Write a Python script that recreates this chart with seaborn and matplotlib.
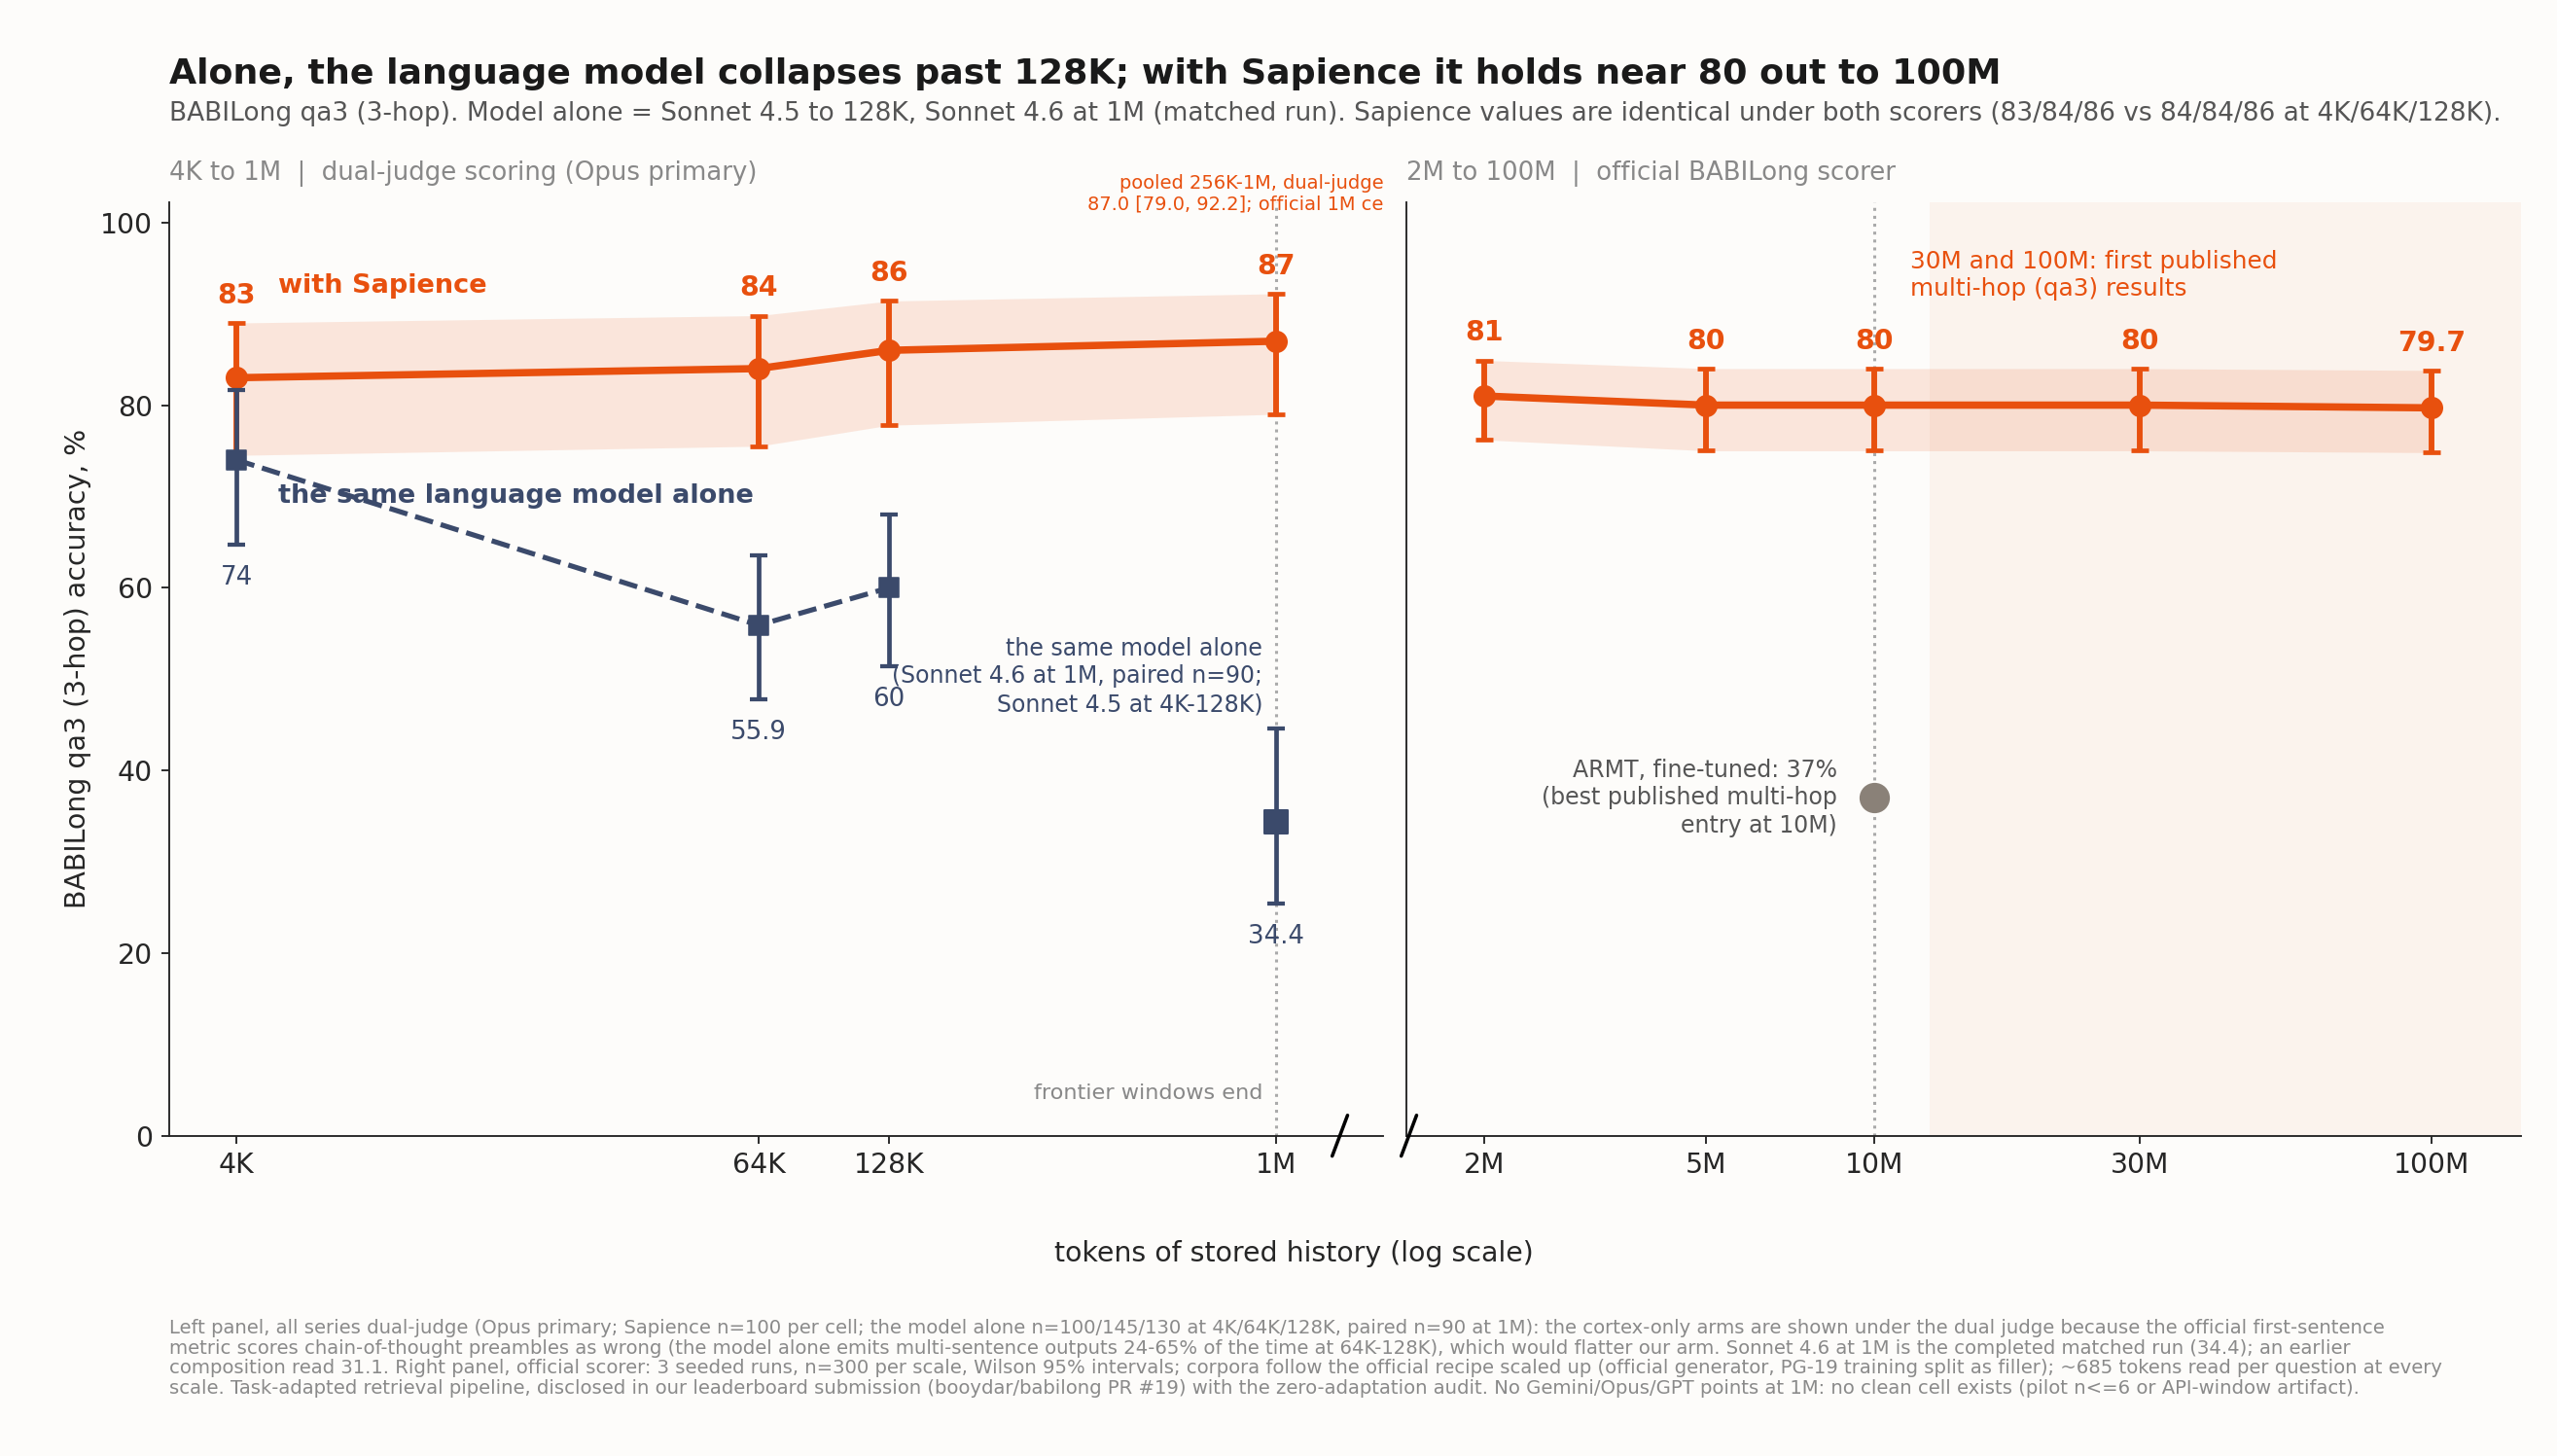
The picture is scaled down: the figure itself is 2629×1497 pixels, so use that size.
import numpy as np, pandas as pd
import matplotlib
matplotlib.use("Agg")
import matplotlib.pyplot as plt
import seaborn as sns

sns.set_style("ticks")
plt.rcParams['font.family'] = ['DejaVu Sans']

# ---- data ----
left_tokens = [4e3, 64e3, 128e3, 1e6]
left_labels = ["4K", "64K", "128K", "1M"]
sap_left = [83, 84, 86, 87]
sap_left_lo = [74.5, 75.5, 77.8, 79.0]
sap_left_hi = [89.0, 89.8, 91.4, 92.2]
sap_left_txt = ["83", "84", "86", "87"]

alone_tokens = [4e3, 64e3, 128e3, 1e6]
alone = [74, 55.9, 60, 34.4]
alone_lo = [64.7, 47.8, 51.4, 25.4]
alone_hi = [81.7, 63.6, 68.0, 44.6]
alone_txt = ["74", "55.9", "60", "34.4"]

right_tokens = [2e6, 5e6, 10e6, 30e6, 100e6]
right_labels = ["2M", "5M", "10M", "30M", "100M"]
sap_right = [81, 80, 80, 80, 79.7]
sap_right_lo = [76.2, 75.0, 75.0, 75.0, 74.8]
sap_right_hi = [84.9, 84.0, 84.0, 84.0, 83.8]
sap_right_txt = ["81", "80", "80", "80", "79.7"]

armt_tokens = [10e6]
armt = [37]

ORANGE = "#e8500e"
NAVY = "#3b4a6b"
BG = "#fdfcfa"

fig = plt.figure(figsize=(2629/170, 1497/170), dpi=170, facecolor=BG)
axL = fig.add_axes([0.066, 0.22, 0.475, 0.641], facecolor=BG)
axR = fig.add_axes([0.550, 0.22, 0.436, 0.641], facecolor=BG)

# ---- left panel ----
axL.set_xscale("log")
axL.fill_between(left_tokens, sap_left_lo, sap_left_hi, color=ORANGE, alpha=0.13, lw=0)
dfL = pd.DataFrame({"t": left_tokens, "v": sap_left})
sns.lineplot(data=dfL, x="t", y="v", ax=axL, color=ORANGE, lw=3.2, marker="o", markersize=9,
             markeredgecolor=ORANGE)
axL.errorbar(left_tokens, sap_left, yerr=[np.subtract(sap_left, sap_left_lo), np.subtract(sap_left_hi, sap_left)],
             fmt="none", ecolor=ORANGE, elinewidth=2.5, capsize=4, capthick=2)
for x, hi, t in zip(left_tokens, sap_left_hi, sap_left_txt):
    axL.text(x, hi + 1.5, t, ha="center", va="bottom", color=ORANGE, fontsize=12, fontweight="bold")

dfA = pd.DataFrame({"t": alone_tokens[:3], "v": alone[:3]})
sns.lineplot(data=dfA, x="t", y="v", ax=axL, color=NAVY, lw=2.2, linestyle="--")
axL.errorbar(alone_tokens, alone, yerr=[np.subtract(alone, alone_lo), np.subtract(alone_hi, alone)],
             fmt="none", ecolor=NAVY, elinewidth=2, capsize=4, capthick=1.8)
sns.scatterplot(x=alone_tokens[:3], y=alone[:3], ax=axL, color=NAVY, marker="s", s=70, edgecolor=NAVY, zorder=5)
sns.scatterplot(x=alone_tokens[3:], y=alone[3:], ax=axL, color=NAVY, marker="s", s=110, edgecolor=NAVY, zorder=5)
for x, lo, t in zip(alone_tokens, alone_lo, alone_txt):
    axL.text(x, lo - 2.2, t, ha="center", va="top", color=NAVY, fontsize=11)

axL.axvline(1e6, color="#aaaaaa", ls=":", lw=1.3, zorder=0)
axL.text(4980, 93.1, "with Sapience", color=ORANGE, fontsize=11.5, fontweight="bold", va="center")
axL.text(4980, 70, "the same language model alone", color=NAVY, fontsize=11.5, fontweight="bold", va="center")
axL.text(0.93e6, 50.3, "the same model alone\n(Sonnet 4.6 at 1M, paired n=90;\nSonnet 4.5 at 4K-128K)",
         color=NAVY, fontsize=10, ha="right", va="center", linespacing=1.25)
axL.text(0.93e6, 4.7, "frontier windows end", color="#888888", fontsize=9.5, ha="right", va="center")
axL.text(1.0, 0.988, "pooled 256K-1M, dual-judge\n87.0 [79.0, 92.2]; official 1M ce",
         transform=axL.transAxes, ha="right", va="bottom", color=ORANGE, fontsize=8.2, clip_on=False)

axL.set_xlim(10**3.446, 10**6.247)
axL.set_ylim(0, 102.2)
axL.set_xticks(left_tokens)
axL.set_xticklabels(left_labels)
axL.minorticks_off()
axL.set_yticks([0, 20, 40, 60, 80, 100])
axL.tick_params(labelsize=12)
axL.set_xlabel("")
axL.set_ylabel("BABILong qa3 (3-hop) accuracy, %", fontsize=12)
for s in ["top", "right"]:
    axL.spines[s].set_visible(False)

# ---- right panel ----
axR.set_xscale("log")
axR.axvspan(12.6e6, 10**8.16, color=ORANGE, alpha=0.05, lw=0)
axR.fill_between(right_tokens, sap_right_lo, sap_right_hi, color=ORANGE, alpha=0.13, lw=0)
dfR = pd.DataFrame({"t": right_tokens, "v": sap_right})
sns.lineplot(data=dfR, x="t", y="v", ax=axR, color=ORANGE, lw=3.2, marker="o", markersize=9,
             markeredgecolor=ORANGE)
axR.errorbar(right_tokens, sap_right, yerr=[np.subtract(sap_right, sap_right_lo), np.subtract(sap_right_hi, sap_right)],
             fmt="none", ecolor=ORANGE, elinewidth=2.5, capsize=4, capthick=2)
for x, hi, t in zip(right_tokens, sap_right_hi, sap_right_txt):
    axR.text(x, hi + 1.5, t, ha="center", va="bottom", color=ORANGE, fontsize=12, fontweight="bold")
sns.scatterplot(x=armt_tokens, y=armt, ax=axR, color="#8a8178", s=150, edgecolor="#8a8178", zorder=5)
axR.axvline(10e6, color="#aaaaaa", ls=":", lw=1.3, zorder=0)
axR.text(11.6e6, 97, "30M and 100M: first published\nmulti-hop (qa3) results", color=ORANGE, fontsize=10.5,
         ha="left", va="top")
axR.text(8.6e6, 37, "ARMT, fine-tuned: 37%\n(best published multi-hop\nentry at 10M)", color="#555555",
         fontsize=10, ha="right", va="center", linespacing=1.25)
axR.set_xlim(10**6.162, 10**8.16)
axR.set_ylim(0, 102.2)
axR.set_xticks(right_tokens)
axR.set_xticklabels(right_labels)
axR.minorticks_off()
axR.set_yticks([])
axR.tick_params(labelsize=12)
axR.set_xlabel(""); axR.set_ylabel("")
for s in ["top", "right"]:
    axR.spines[s].set_visible(False)

# break marks
fig.add_artist(plt.Line2D([0.521, 0.527], [0.206, 0.234], color="black", lw=1.5))
fig.add_artist(plt.Line2D([0.548, 0.554], [0.206, 0.234], color="black", lw=1.5))

# ---- texts ----
fig.text(0.066, 0.949, "Alone, the language model collapses past 128K; with Sapience it holds near 80 out to 100M",
         fontsize=15.4, fontweight="bold", color="#1a1a1a", va="center")
fig.text(0.066, 0.922, "BABILong qa3 (3-hop). Model alone = Sonnet 4.5 to 128K, Sonnet 4.6 at 1M (matched run). "
         "Sapience values are identical under both scorers (83/84/86 vs 84/84/86 at 4K/64K/128K).",
         fontsize=11.2, color="#555555", va="center")
fig.text(0.066, 0.881, "4K to 1M  |  dual-judge scoring (Opus primary)", fontsize=11, color="#888888", va="center")
fig.text(0.550, 0.881, "2M to 100M  |  official BABILong scorer", fontsize=11, color="#888888", va="center")
fig.text(0.506, 0.139, "tokens of stored history (log scale)", fontsize=12, ha="center", va="center")
foot = ("Left panel, all series dual-judge (Opus primary; Sapience n=100 per cell; the model alone n=100/145/130 at 4K/64K/128K, paired n=90 at 1M): the cortex-only arms are shown under the dual judge because the official first-sentence\n"
        "metric scores chain-of-thought preambles as wrong (the model alone emits multi-sentence outputs 24-65% of the time at 64K-128K), which would flatter our arm. Sonnet 4.6 at 1M is the completed matched run (34.4); an earlier\n"
        "composition read 31.1. Right panel, official scorer: 3 seeded runs, n=300 per scale, Wilson 95% intervals; corpora follow the official recipe scaled up (official generator, PG-19 training split as filler); ~685 tokens read per question at every\n"
        "scale. Task-adapted retrieval pipeline, disclosed in our leaderboard submission (booydar/babilong PR #19) with the zero-adaptation audit. No Gemini/Opus/GPT points at 1M: no clean cell exists (pilot n<=6 or API-window artifact).")
fig.text(0.066, 0.094, foot, fontsize=8.3, color="#8a8a8a", va="top", linespacing=1.1)

fig.savefig("out.png", dpi=170, facecolor=BG)
